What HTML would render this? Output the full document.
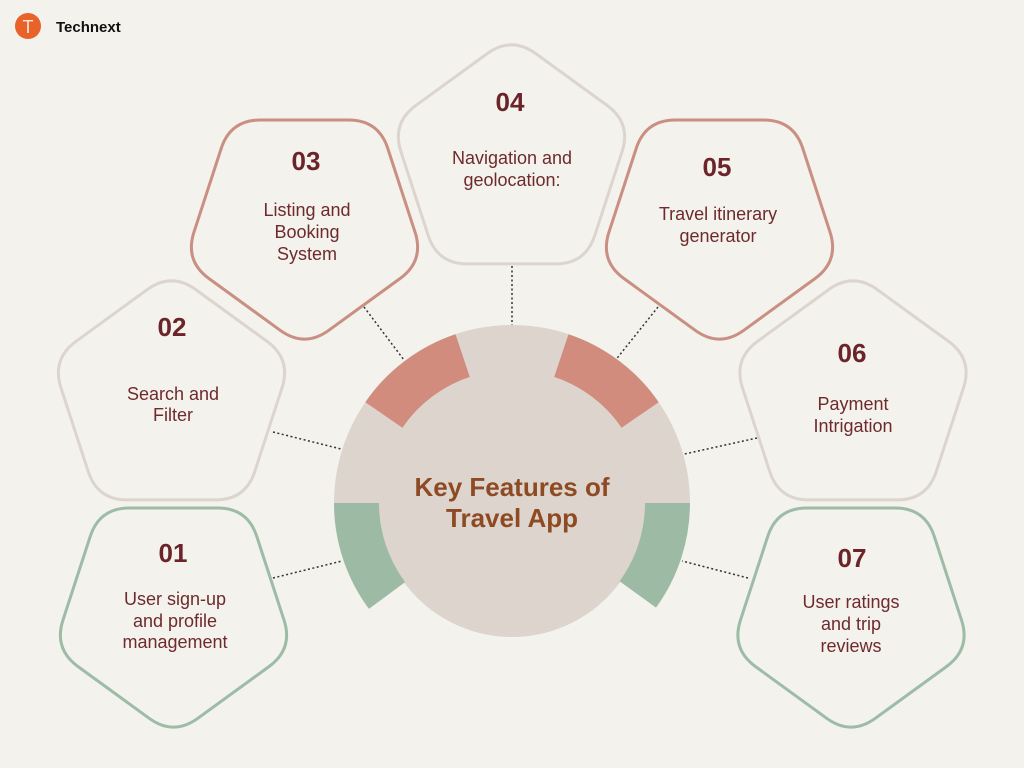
<!DOCTYPE html>
<html><head><meta charset="utf-8"><style>
html,body{margin:0;padding:0;background:#f3f2ec;}
svg{display:block}
text{font-family:"Liberation Sans",sans-serif;}
.n{font-weight:bold;font-size:26px;fill:#6b2429;text-anchor:middle}
.t{font-size:18px;fill:#6e2a2e;text-anchor:middle}
.c{font-weight:bold;font-size:26px;fill:#8e4a22;text-anchor:middle}
</style></head><body>
<svg id="s" width="1024" height="768" viewBox="0 0 1024 768">
<rect width="1024" height="768" fill="#f3f2ec"/>
<g id="shapes"></g>
<g stroke="#333" stroke-width="1.5" stroke-dasharray="2 2.5" fill="none">
<line x1="512" y1="266" x2="512" y2="327"/>
<line x1="364" y1="307" x2="404" y2="360"/>
<line x1="658" y1="307" x2="614" y2="362"/>
<line x1="273" y1="432" x2="345" y2="450"/>
<line x1="757" y1="438" x2="680" y2="455"/>
<line x1="273" y1="578" x2="342" y2="561"/>
<line x1="748" y1="578" x2="682" y2="561"/>
</g>
<g id="disk"></g>
<text class="c" x="512" y="496">Key Features of</text>
<text class="c" x="512" y="527">Travel App</text>

<circle cx="28" cy="26" r="13" fill="#e8622a"/>
<text x="28" y="33" font-size="18" fill="#fbe6d8" text-anchor="middle">T</text>
<text x="56" y="32" font-size="15" font-weight="bold" fill="#111">Technext</text>

<text class="n" x="173" y="562">01</text>
<text class="t" x="175" y="605">User sign-up</text>
<text class="t" x="175" y="627">and profile</text>
<text class="t" x="175" y="648">management</text>

<text class="n" x="172" y="336">02</text>
<text class="t" x="173" y="400">Search and</text>
<text class="t" x="173" y="421">Filter</text>

<text class="n" x="306" y="170">03</text>
<text class="t" x="307" y="216">Listing and</text>
<text class="t" x="307" y="238">Booking</text>
<text class="t" x="307" y="260">System</text>

<text class="n" x="510" y="111">04</text>
<text class="t" x="512" y="164">Navigation and</text>
<text class="t" x="512" y="186">geolocation:</text>

<text class="n" x="717" y="176">05</text>
<text class="t" x="718" y="220">Travel itinerary</text>
<text class="t" x="718" y="242">generator</text>

<text class="n" x="852" y="362">06</text>
<text class="t" x="853" y="410">Payment</text>
<text class="t" x="853" y="432">Intrigation</text>

<text class="n" x="852" y="567">07</text>
<text class="t" x="851" y="608">User ratings</text>
<text class="t" x="851" y="630">and trip</text>
<text class="t" x="851" y="652">reviews</text>
</svg>
<script>
var NS="http://www.w3.org/2000/svg";
function el(p,tag,a){var e=document.createElementNS(NS,tag);for(var k in a)e.setAttribute(k,a[k]);p.appendChild(e);return e;}
function pent(cx,top,down,col){
  var R=126,bh=R*(1+Math.cos(Math.PI/5)),cy=down?top+R*Math.cos(Math.PI/5)-2:top+R-4,pts=[];
  for(var i=0;i<5;i++){var a=-Math.PI/2+i*2*Math.PI/5;if(down)a+=Math.PI;pts.push([cx+R*Math.cos(a),cy+R*Math.sin(a)]);}
  var r=30,d="";
  for(var i=0;i<5;i++){
    var p=pts[i],pr=pts[(i+4)%5],nx=pts[(i+1)%5];
    var v1=[pr[0]-p[0],pr[1]-p[1]],l1=Math.hypot(v1[0],v1[1]);
    var v2=[nx[0]-p[0],nx[1]-p[1]],l2=Math.hypot(v2[0],v2[1]);
    var a=[p[0]+v1[0]/l1*r,p[1]+v1[1]/l1*r],b=[p[0]+v2[0]/l2*r,p[1]+v2[1]/l2*r];
    d+=(i==0?"M":"L")+a[0].toFixed(1)+","+a[1].toFixed(1)+" Q"+p[0].toFixed(1)+","+p[1].toFixed(1)+" "+b[0].toFixed(1)+","+b[1].toFixed(1)+" ";
  }
  el(document.getElementById("shapes"),"path",{d:d+"Z",fill:"none",stroke:col,"stroke-width":3});
}
var B="#dcd5cd",P="#c98f82",G="#9dbca5";
pent(173.5,510,true,G);pent(171.5,276,false,B);pent(304.5,122,true,P);pent(511.5,40,false,B);
pent(719.5,122,true,P);pent(853,276,false,B);pent(851,510,true,G);
var cx=512,cy=503,ri=133,ro=178,g=document.getElementById("disk");
function sec(a1,a2,r1,r2,col){
  function pt(r,a){a=a*Math.PI/180;return (cx+r*Math.cos(a)).toFixed(1)+","+(cy-r*Math.sin(a)).toFixed(1);}
  var large=Math.abs(a2-a1)>180?1:0;
  var d="M"+pt(r2,a1)+" A"+r2+","+r2+" 0 "+large+" 0 "+pt(r2,a2)+" L"+pt(r1,a2)+" A"+r1+","+r1+" 0 "+large+" 1 "+pt(r1,a1)+"Z";
  if(r1==0)d="M"+cx+","+cy+" L"+pt(r2,a1)+" A"+r2+","+r2+" 0 "+large+" 0 "+pt(r2,a2)+"Z";
  el(g,"path",{d:d,fill:col});
}
sec(0,180,0,ro,"#ddd5cd");
el(g,"circle",{cx:cx,cy:cy,r:ri+1,fill:"#ddd5cd"});
sec(108.5,145.5,ri,ro,"#d18c7e");
sec(34.5,71.5,ri,ro,"#d18c7e");
sec(180,216.5,ri,ro,"#9dbba4");
sec(-36,0,ri,ro,"#9dbba4");
</script>
</body></html>
